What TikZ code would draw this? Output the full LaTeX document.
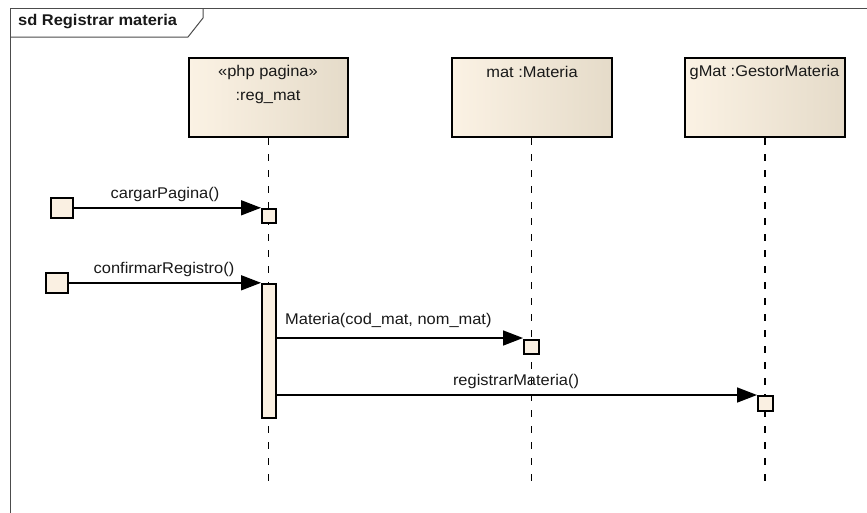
\documentclass[tikz,border=0pt]{standalone}
\usepackage{fontspec}
\setmainfont{Liberation Sans}[FakeStretch=1.06]
\usetikzlibrary{arrows.meta}
\definecolor{creamL}{HTML}{FBF2E4}
\definecolor{creamR}{HTML}{E5DBC9}
\definecolor{actfill}{HTML}{FAF0E2}
\tikzset{
  headbox/.style={draw=black, line width=2pt, left color=creamL, right color=creamR, shading angle=90, inner sep=0pt},
  actbox/.style={draw=black, line width=1.6pt, fill=actfill, inner sep=0pt},
  lifeline/.style={line width=1.6pt, dash pattern=on 7pt off 9pt},
  msg/.style={line width=1.6pt, -{Triangle[length=20pt,width=15pt]}},
  txt/.style={font=\fontsize{15.5}{17}\selectfont, text=black!90, inner sep=0pt},
  framel/.style={draw=black!70, line width=1pt}
}
\begin{document}
\begin{tikzpicture}[x=1pt,y=-1pt]
\useasboundingbox (0,0) rectangle (867,512);
\fill[white] (0,0) rectangle (867,512);
% frame
\draw[framel] (10,515) -- (10,8) -- (870,8);
\draw[framel] (10,37) -- (188,37) -- (203,18) -- (203,8);
\node[txt, font=\fontsize{15.5}{17}\selectfont\bfseries, anchor=west] (title) at (18,22) {sd Registrar materia};
% heads
\node[headbox, minimum width=159pt, minimum height=79pt] (reg) at (268.5,97.5) {};
\node[headbox, minimum width=160pt, minimum height=79pt] (mat) at (531.5,97.5) {};
\node[headbox, minimum width=160pt, minimum height=79pt] (gmat) at (765,97.5) {};
\node[txt] (regst) at (268,72) {«php pagina»};
\node[txt] (regn) at (268,97) {:reg\_mat};
\node[txt] (matn) at (532,72) {mat :Materia};
\node[txt] (gmatn) at (764.5,72) {gMat :GestorMateria};
% lifelines
\coordinate (regend) at (268.5,485);
\coordinate (matend) at (531.5,485);
\coordinate (gmatend) at (765,485);
\draw[lifeline] (reg.south) -- (regend);
\draw[lifeline] (mat.south) -- (matend);
\draw[lifeline] (gmat.south) -- (gmatend);
% activations
\node[actbox, minimum width=14pt, minimum height=14pt, anchor=north west] (a1) at (261,208) {};
\node[actbox, minimum width=14pt, minimum height=134pt, anchor=north west] (a2) at (261,283) {};
\node[actbox, minimum width=15pt, minimum height=14pt, anchor=north west] (a3) at (523,339) {};
\node[actbox, minimum width=15pt, minimum height=15pt, anchor=north west] (a4) at (757,395) {};
% gates
\node[actbox, minimum width=22pt, minimum height=20pt, anchor=north west] (s1) at (50,197) {};
\node[actbox, minimum width=22pt, minimum height=20pt, anchor=north west] (s2) at (45,272) {};
% messages
\draw[msg] (s1.east) -- (s1.east -| a1.west);
\draw[msg] (s2.east) -- (s2.east -| a2.west);
\draw[msg] (a2.east |- 0,338) -- (a3.north west |- 0,338);
\draw[msg] (a2.east |- a4.north west) -- (a4.north west);
% labels
\node[txt] (l1) at (165,194) {cargarPagina()};
\node[txt] (l2) at (164,269) {confirmarRegistro()};
\node[txt, anchor=west] (l3) at (285,320) {Materia(cod\_mat, nom\_mat)};
\node[txt] (l4) at (516,381) {registrarMateria()};
\end{tikzpicture}
\end{document}
